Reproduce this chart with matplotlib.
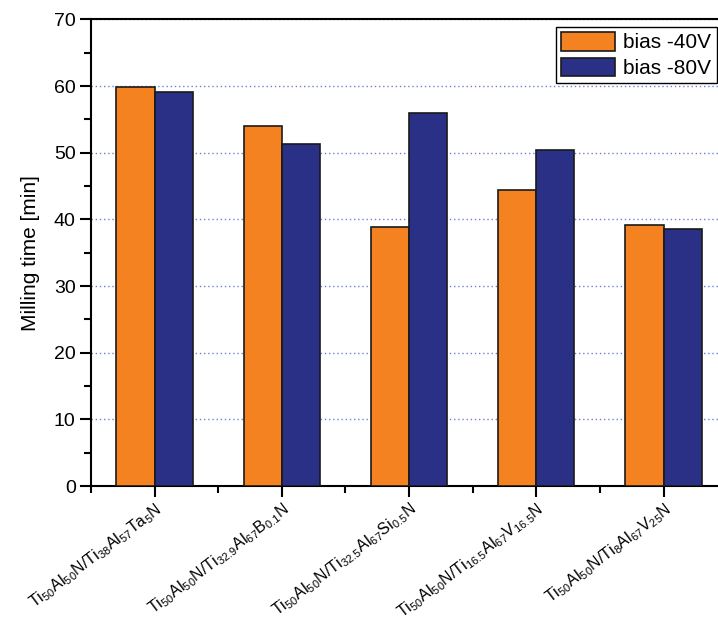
import numpy as np
import matplotlib
matplotlib.use('Agg')
import matplotlib.pyplot as plt
from matplotlib.ticker import MultipleLocator

plt.rcParams['font.family'] = ['Liberation Sans', 'DejaVu Sans']
plt.rcParams['mathtext.fontset'] = 'custom'
plt.rcParams['mathtext.rm'] = 'Liberation Sans'
plt.rcParams['mathtext.it'] = 'Liberation Sans'

# data
coatings = [
    r'Ti$_{50}$Al$_{50}$N/Ti$_{38}$Al$_{57}$Ta$_{5}$N',
    r'Ti$_{50}$Al$_{50}$N/Ti$_{32.9}$Al$_{67}$B$_{0.1}$N',
    r'Ti$_{50}$Al$_{50}$N/Ti$_{32.5}$Al$_{67}$Si$_{0.5}$N',
    r'Ti$_{50}$Al$_{50}$N/Ti$_{16.5}$Al$_{67}$V$_{16.5}$N',
    r'Ti$_{50}$Al$_{50}$N/Ti$_{8}$Al$_{67}$V$_{25}$N',
]
bias_40 = [59.8, 54.0, 38.8, 44.4, 39.2]
bias_80 = [59.1, 51.3, 56.0, 50.4, 38.6]

fig = plt.figure(figsize=(7.18, 6.22), dpi=100)
ax = fig.add_axes([0.1267, 0.2186, 0.886, 0.7503])

x = np.arange(1, len(coatings) + 1)
w = 0.3
ax.bar(x - w / 2, bias_40, width=w, color='#F58220', edgecolor='#1a1a1a',
       linewidth=1.2, label='bias -40V', zorder=3)
ax.bar(x + w / 2, bias_80, width=w, color='#2B3087', edgecolor='#1a1a1a',
       linewidth=1.2, label='bias -80V', zorder=3)

ax.set_xlim(0.5, 5.5)
ax.set_ylim(0, 70)
ax.set_xticks(x)
ax.set_xticklabels(coatings, rotation=37, ha='right', rotation_mode='anchor',
                   fontsize=11.5)
ax.set_xticks(np.arange(0.5, 6, 1), minor=True)
ax.yaxis.set_major_locator(MultipleLocator(10))
ax.yaxis.set_minor_locator(MultipleLocator(5))
ax.tick_params(axis='both', which='major', length=8, width=1.5)
ax.tick_params(axis='both', which='minor', length=5, width=1.5)
ax.tick_params(axis='y', which='major', labelsize=14, pad=3)
ax.tick_params(axis='x', which='major', pad=2)
for s in ax.spines.values():
    s.set_linewidth(1.5)

ax.grid(axis='y', which='major', linestyle=(0, (1, 2)), color='#6f7fd8',
        linewidth=1, zorder=0)
ax.set_ylabel('Milling time [min]', fontsize=15, labelpad=10)

ax.legend(loc='upper right', bbox_to_anchor=(0.998, 0.957),
          bbox_transform=fig.transFigure, fontsize=15, fancybox=False,
          edgecolor='black', framealpha=1, handlelength=2.6,
          handleheight=1.0, borderpad=0.25, labelspacing=0.25,
          handletextpad=0.4, borderaxespad=0)

fig.savefig('out.png', dpi=100)
